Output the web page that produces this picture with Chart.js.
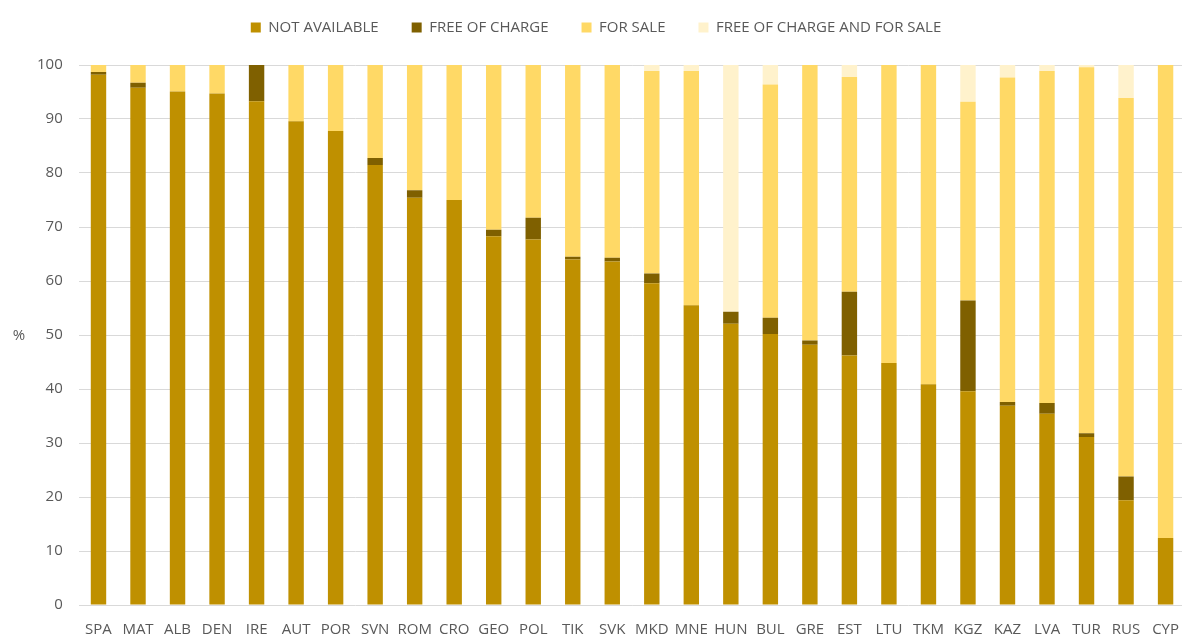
<!DOCTYPE html>
<html>
<head>
<meta charset="utf-8">
<script src="https://cdn.jsdelivr.net/npm/chart.js@4.4.1/dist/chart.umd.min.js"></script>
<style>
  html, body { margin: 0; padding: 0; background: #fff; overflow: hidden; }
  #wrap { width: 1187px; height: 634px; position: relative; }
</style>
</head>
<body>
<div id="wrap"><canvas id="stacked-bar-chart"></canvas></div>
<script>
// Stacked bar chart
// ------------------------------
const countries = ["SPA", "MAT", "ALB", "DEN", "IRE", "AUT", "POR", "SVN", "ROM", "CRO",
    "GEO", "POL", "TJK", "SVK", "MKD", "MNE", "HUN", "BUL", "GRE", "EST",
    "LTU", "TKM", "KGZ", "KAZ", "LVA", "TUR", "RUS", "CYP"];
const notAvailable = [98.2, 95.8, 95.1, 94.7, 93.3, 89.6, 87.8, 81.5, 75.4, 75.0,
    68.3, 67.7, 64.0, 63.6, 59.6, 55.5, 52.1, 50.2, 48.2, 46.2,
    44.8, 40.9, 39.6, 36.9, 35.4, 31.1, 19.4, 12.4];
const freeOfCharge = [0.5, 0.9, 0, 0, 6.7, 0, 0, 1.3, 1.4, 0,
    1.2, 4.0, 0.5, 0.7, 1.8, 0, 2.2, 3.0, 0.8, 11.8,
    0, 0, 16.8, 0.7, 2.0, 0.7, 4.4, 0];
const forSale = [1.3, 3.3, 4.9, 5.3, 0, 10.4, 12.2, 17.2, 23.2, 25.0,
    30.5, 28.3, 35.5, 35.7, 37.5, 43.4, 0, 43.2, 51.0, 39.8,
    55.2, 59.1, 36.8, 60.1, 61.5, 67.8, 70.1, 87.6];
const freeAndForSale = [0, 0, 0, 0, 0, 0, 0, 0, 0, 0,
    0, 0, 0, 0, 1.1, 1.1, 45.7, 3.6, 0, 2.2,
    0, 0, 6.8, 2.3, 1.1, 0.4, 6.1, 0];
const yTicks = [0, 10, 20, 30, 40, 50, 60, 70, 80, 90, 100];

const textColor = '#595959';
const fontFamily = "'Open Sans', 'Liberation Sans', sans-serif";

function barSet(label, data, color) {
    return {
        label: label,
        data: data,
        backgroundColor: color,
        borderWidth: 0,
        categoryPercentage: 1.0,
        barPercentage: 0.39
    };
}

// push the plot area down below the legend, nudge the legend a bit left
const legendSpacing = {
    id: 'legendSpacing',
    beforeInit(chart) {
        const legend = chart.legend;
        const fit = legend.fit;
        legend.fit = function () {
            fit.bind(legend)();
            this.height += 20;
        };
        const draw = legend.draw;
        legend.draw = function () {
            chart.ctx.save();
            chart.ctx.translate(-8, 0);
            draw.apply(legend, arguments);
            chart.ctx.restore();
        };
    }
};

// "%" unit label beside the value axis
const unitLabel = {
    id: 'unitLabel',
    afterDraw(chart) {
        const ctx = chart.ctx;
        const yAxis = chart.scales.y;
        ctx.save();
        ctx.font = '15px ' + fontFamily;
        ctx.fillStyle = textColor;
        ctx.textAlign = 'center';
        ctx.textBaseline = 'middle';
        ctx.fillText('%', 19, (yAxis.top + yAxis.bottom) / 2 + 1);
        ctx.restore();
    }
};

const ctx = document.getElementById('stacked-bar-chart');

const config = {
    type: 'bar',
    data: {
        labels: countries,
        datasets: [
            barSet('NOT AVAILABLE', notAvailable, '#BF9000'),
            barSet('FREE OF CHARGE', freeOfCharge, '#7F6000'),
            barSet('FOR SALE', forSale, '#FFD966'),
            barSet('FREE OF CHARGE AND FOR SALE', freeAndForSale, '#FFF2CC')
        ]
    },
    options: {
        responsive: true,
        maintainAspectRatio: false,
        animation: false,
        layout: { padding: { top: -13, left: 21, right: 0, bottom: -13 } },
        plugins: {
            legend: {
                position: 'top',
                labels: {
                    boxWidth: 10,
                    boxHeight: 10,
                    padding: 33,
                    color: textColor,
                    font: { family: fontFamily, size: 15 }
                }
            },
            tooltip: { enabled: false }
        },
        scales: {
            x: {
                stacked: true,
                grid: { display: false },
                border: { display: false },
                ticks: {
                    color: textColor,
                    padding: 8,
                    maxRotation: 0,
                    autoSkip: false,
                    font: { family: fontFamily, size: 15 }
                }
            },
            y: {
                stacked: true,
                min: 0,
                max: 100,
                afterBuildTicks(axis) {
                    axis.ticks = yTicks.map(v => ({ value: v }));
                },
                grid: { color: '#d9d9d9', lineWidth: 1, drawTicks: false },
                border: { display: false },
                ticks: {
                    color: textColor,
                    padding: 16,
                    font: { family: fontFamily, size: 15 }
                }
            }
        }
    },
    plugins: [legendSpacing, unitLabel]
};

const stackedChart = new Chart(ctx, config);
</script>
</body>
</html>
